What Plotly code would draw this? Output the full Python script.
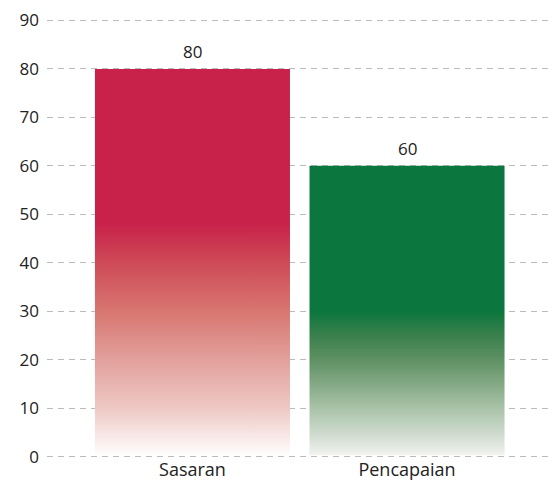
import plotly.graph_objects as go

categories = ["Sasaran", "Pencapaian"]
values = [80, 60]
top_colors = ["#C8224A", "#0B763D"]
# gradient stops (fraction of bar height, colour) for each bar
red_stops = [[0.0, "#FFFFFF"], [0.125, "#EEC8C4"], [0.25, "#E2A09C"], [0.375, "#D87670"], [0.5, "#CE4A57"], [0.6, "#C8224A"], [1.0, "#C8224A"]]
green_stops = [[0.0, "#F4F4F2"], [0.0833, "#CCD9CB"], [0.1667, "#A9C3A9"], [0.25, "#84A985"], [0.3333, "#5E9163"], [0.4167, "#3A804C"], [0.5, "#0B763D"], [1.0, "#0B763D"]]
stops = [red_stops, green_stops]
y_ticks = [0, 10, 20, 30, 40, 50, 60, 70, 80, 90]

BAR_W = 0.909
FONT = "'Open Sans', Lato, sans-serif"

fig = go.Figure()
for i, (cat, v) in enumerate(zip(categories, values)):
    x0, x1 = i - BAR_W / 2, i + BAR_W / 2
    fig.add_trace(go.Scatter(
        x=[x0, x1, x1, x0, x0], y=[0.25, 0.25, v, v, 0.25],
        mode="lines", fill="toself", line=dict(width=0, color=top_colors[i]),
        fillgradient=dict(type="vertical", start=0, stop=v, colorscale=stops[i]),
        hoverinfo="skip", showlegend=False, name=cat,
    ))

for i, v in enumerate(values):
    fig.add_annotation(
        x=i, y=v, text=str(v), showarrow=False, yanchor="bottom", yshift=4,
        font=dict(family=FONT, size=17, color="#222222"),
    )

fig.update_layout(
    width=549, height=476,
    margin=dict(l=39, r=0, t=10, b=25),
    paper_bgcolor="white", plot_bgcolor="white",
    font=dict(family=FONT, size=17, color="#222222"),
    showlegend=False,
    xaxis=dict(
        range=[-0.678, 1.699], tickvals=list(range(len(categories))), ticktext=categories,
        showgrid=False, zeroline=False, showline=False, ticks="", fixedrange=True,
        automargin=False, ticklabelstandoff=-2, tickfont=dict(size=18),
    ),
    yaxis=dict(
        range=[-0.5, 90.5], tickvals=y_ticks, showgrid=True, gridcolor="#BBBBBB", gridwidth=1,
        griddash="6px,5px", zeroline=False, showline=False, ticks="", ticklabelstandoff=7,
        automargin=False, tickfont=dict(size=17),
    ),
)

fig.write_html("out.html")
